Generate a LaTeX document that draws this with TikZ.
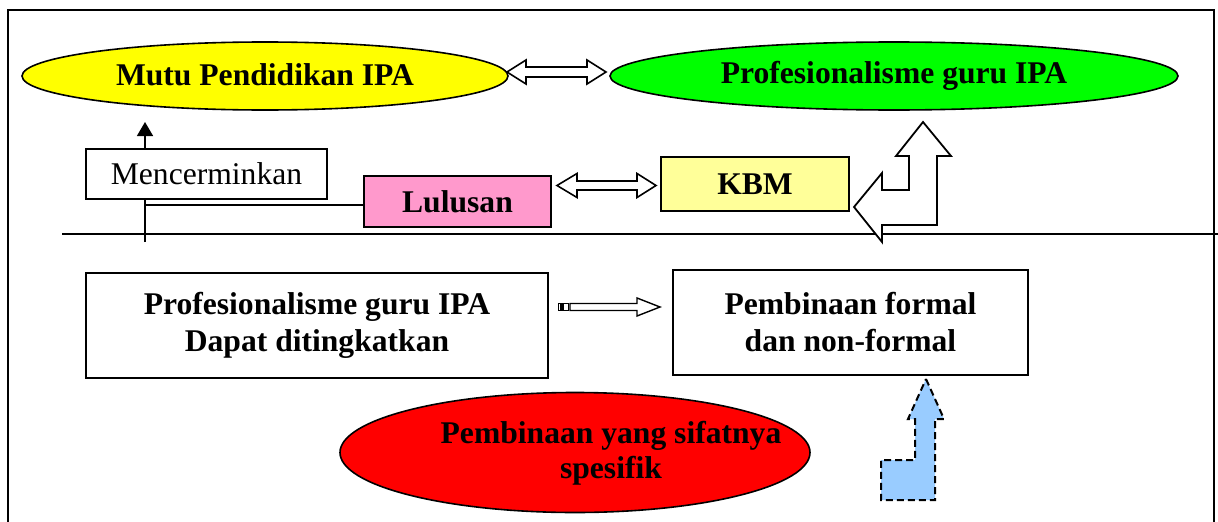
\documentclass[tikz,border=0pt]{standalone}
\usepackage{fontspec}
\setmainfont{Liberation Serif}
\usetikzlibrary{shapes.geometric,arrows.meta,calc}
\definecolor{cyel}{HTML}{FFFF00}
\definecolor{cgrn}{HTML}{00FF00}
\definecolor{cred}{HTML}{FF0000}
\definecolor{cpink}{HTML}{FF99CC}
\definecolor{clyel}{HTML}{FFFF99}
\definecolor{cblue}{HTML}{99CCFF}
\newcommand{\bigtxt}{\fontsize{31.6}{37}\selectfont}
\tikzset{
  ell/.style={ellipse, draw, line width=1.6pt, inner sep=0pt, font=\bigtxt\bfseries},
  box/.style={rectangle, draw, line width=1.4pt, fill=white, inner sep=0pt, align=center, font=\bigtxt},
  boldbox/.style={box, font=\bigtxt\bfseries},
  hollow/.style={draw, line width=1.6pt, fill=white, line join=miter},
  thin/.style={line width=1.5pt},
}
\begin{document}
\begin{tikzpicture}[x=1pt, y=-1pt, font=\bigtxt]
\useasboundingbox (0,0) rectangle (1218,522);
% frame
\draw[line width=2.2pt] (8,522) -- (8,10) -- (1214,10) -- (1214,522);
% divider
\coordinate (d0) at (62,234);
\coordinate (d1) at (1218,234);
\draw[thin] (d0) -- (d1);

% ellipses
\node[ell, fill=cyel, minimum width=486pt, minimum height=68pt] (mutu) at (265,76) {\raisebox{2pt}{Mutu Pendidikan IPA}};
\node[ell, fill=cgrn, minimum width=568pt, minimum height=68pt] (prof) at (894,76) {\raisebox{2pt}{Profesionalisme guru IPA}};

% double arrow between ellipses
\draw[hollow] (507,72) -- (526,60) -- (526,67) -- (587,67) -- (587,60) -- (606,72)
  -- (587,84) -- (587,77) -- (526,77) -- (526,84) -- cycle;

% vertical arrow and Mencerminkan
\coordinate (a0) at (145,242);
\coordinate (a1) at (145,122);
\draw[thin, -{Triangle[width=16pt,length=14pt]}] (a0) -- (a1);
\node[box, minimum width=241pt, minimum height=50pt] (menc) at (206.5,174) {\raisebox{-4pt}{Mencerminkan}};

% boxes
\node[boldbox, fill=cpink, minimum width=187pt, minimum height=51pt] (lul) at (457.5,201.5) {Lulusan};
\node[boldbox, fill=clyel, minimum width=188pt, minimum height=54pt] (kbm) at (755,184) {KBM};
\coordinate (j) at (145,205);
\draw[thin] (j) -- (j -| lul.west);

% double arrow Lulusan-KBM
\draw[hollow] (557,185.5) -- (577,173.5) -- (577,181) -- (637,181) -- (637,173.5) -- (656,185.5)
  -- (637,197.5) -- (637,190) -- (577,190) -- (577,197.5) -- cycle;

% bent arrow KBM -> profesionalisme
\draw[hollow, line width=1.8pt] (923,122) -- (951,156) -- (937,156) -- (937,225) -- (882,225)
  -- (882,242) -- (854,207) -- (882,173) -- (882,190) -- (909,190) -- (909,156)
  -- (896,156) -- cycle;

% lower boxes
\node[boldbox, minimum width=462pt, minimum height=105pt] (pdt) at (317,325.5) {Profesionalisme guru IPA\\Dapat ditingkatkan};
\node[boldbox, minimum width=355pt, minimum height=105pt] (pfn) at (850.5,322.5) {Pembinaan formal\\dan non-formal};

% striped arrow
\draw[hollow, line width=1.2pt] (558.5,303.5) rectangle (561,310.5);
\draw[hollow, line width=1.2pt] (563,303.5) rectangle (568.5,310.5);
\draw[hollow, line width=1.4pt] (570,303.5) -- (637,303.5) -- (637,298) -- (660,307) -- (637,316) -- (637,310.5)
  -- (570,310.5) -- cycle;

% red ellipse
\node[ell, fill=cred, minimum width=470pt, minimum height=120pt] (spes) at (575,452.5) {};
\node[font=\fontsize{31.6}{35}\selectfont\bfseries, align=center, inner sep=0pt] (spest) at (611,453) {Pembinaan yang sifatnya\\spesifik};

% blue dashed bent arrow
\draw[draw, fill=cblue, line width=2pt, dash pattern=on 7pt off 4pt, line join=miter]
  (926,379) -- (944,419) -- (935,419) -- (935,500) -- (881,500) -- (881,460)
  -- (915,460) -- (915,419) -- (908,419) -- cycle;
\end{tikzpicture}
\end{document}
